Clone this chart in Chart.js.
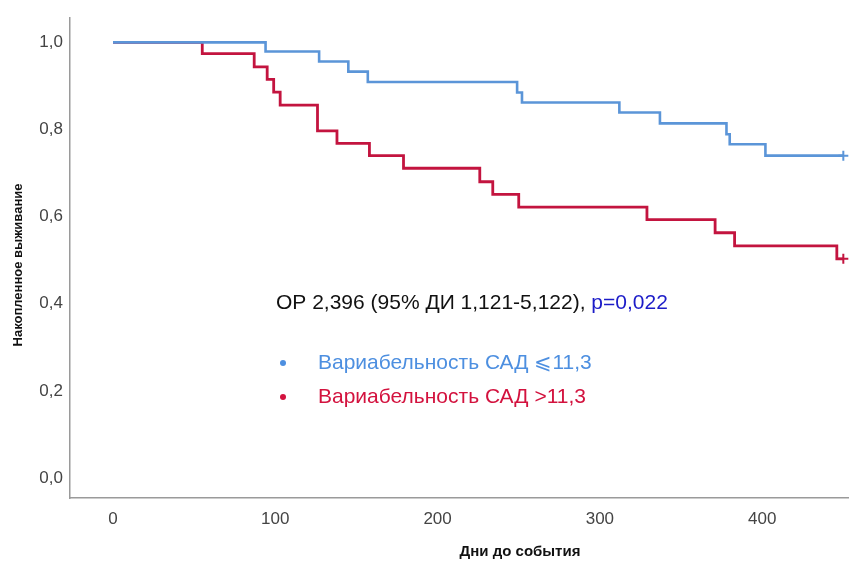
<!DOCTYPE html>
<html>
<head>
<meta charset="utf-8">
<script src="https://cdn.jsdelivr.net/npm/chart.js@4.4.1/dist/chart.umd.min.js"></script>
<style>
  body { margin:0; background:#fff; }
  canvas { display:block; }
</style>
</head>
<body>
<canvas id="km" width="849" height="561"></canvas>
<script>
// ---- data ----
let blueDays=[0, 94, 127, 145, 157, 249, 252, 312, 337, 378, 380, 402, 450]
let blueSurv=[1.0, 0.979, 0.956, 0.933, 0.909, 0.885, 0.862, 0.839, 0.814, 0.789, 0.766, 0.740, 0.740]

let redDays=[0, 55, 87, 95, 99, 103, 126, 138, 158, 179, 226, 234, 250, 329, 371, 383, 446, 450]
let redSurv=[1.0, 0.974, 0.944, 0.915, 0.886, 0.856, 0.797, 0.768, 0.740, 0.711, 0.680, 0.651, 0.622, 0.593, 0.563, 0.533, 0.503, 0.503]

let groupNames=["Вариабельность САД \u2A7D11,3", "Вариабельность САД >11,3"]
let xTicks=[0, 100, 200, 300, 400]
let yTicks=[0, 0.2, 0.4, 0.6, 0.8, 1.0]

let blueLine="#5b95d8"
let redLine="#c3143f"
let blueText="#4d8fe0"
let redText="#d3123e"

function toPoints(days, surv) {
    return days.map(function (d, i) { return {x: d, y: surv[i]} })
}
// censor "+" only on the last point
function lastOnly(arr, val) {
    return arr.map(function (d, i) { return i === arr.length - 1 ? val : 0 })
}

let fontTick='"Liberation Sans Narrow", "Liberation Sans", Arial, sans-serif'

// text that SPSS put on the plot + axis titles
const textPlugin = {
  id: 'kmText',
  afterDraw(chart) {
    const c = chart.ctx
    c.save()
    c.textBaseline = 'alphabetic'
    c.textAlign = 'left'
    c.font = '21px "Liberation Sans", Arial, sans-serif'
    let head = "ОР 2,396 (95% ДИ 1,121-5,122), "
    c.fillStyle = "#111"
    c.fillText(head, 276, 309)
    c.fillStyle = "#1c1cc8"
    c.fillText("p=0,022", 276 + c.measureText(head).width, 309)

    let cols = [blueText, redText]
    let base = [369, 403]
    chart.data.datasets.forEach(function (ds, i) {
        c.fillStyle = cols[i]
        c.beginPath()
        c.arc(283, base[i] - 6, 3, 0, Math.PI * 2)
        c.fill()
        c.fillText(ds.label, 318, base[i])
    })

    // axis titles
    c.fillStyle = "#111"
    c.textAlign = 'center'
    c.textBaseline = 'middle'
    c.font = 'bold 15px "Liberation Sans Narrow", "Liberation Sans", Arial, sans-serif'
    c.fillText("Дни до события", 520, 552)
    c.translate(18, 265)
    c.rotate(-Math.PI / 2)
    c.font = 'bold 13px "Liberation Sans Narrow", "Liberation Sans", Arial, sans-serif'
    c.fillText("Накопленное выживание", 0, 0)
    c.restore()
  }
}

const ctx = document.getElementById('km').getContext('2d')
const kmChart = new Chart(ctx, {
    type: 'line',
    data: {
      datasets: [{
        label: groupNames[0],
        data: toPoints(blueDays, blueSurv),
        borderColor: blueLine,
        backgroundColor: blueLine,
        borderWidth: 2.6,
        stepped: true,
        fill: false,
        pointStyle: 'cross',
        pointRadius: lastOnly(blueDays, 5),
        pointBorderWidth: 2
      }, {
        label: groupNames[1],
        data: toPoints(redDays, redSurv),
        borderColor: redLine,
        backgroundColor: redLine,
        borderWidth: 2.8,
        stepped: true,
        fill: false,
        pointStyle: 'cross',
        pointRadius: lastOnly(redDays, 5),
        pointBorderWidth: 2
      }]
    },
    options: {
      responsive: false,
      animation: false,
      devicePixelRatio: 1,
      layout: { autoPadding: false, padding: { top: 18, left: 0, right: 0, bottom: 0 } },
      plugins: {
        legend: { display: false },
        tooltip: { enabled: false }
      },
      scales: {
        x: {
          type: 'linear',
          min: -26.5,
          max: 453.5,
          afterBuildTicks: function (s) { s.ticks = xTicks.map(function (v) { return {value: v} }) },
          afterFit: function (s) { s.height = 63; s.paddingLeft = 0; s.paddingRight = 0 },
          grid: { drawOnChartArea: false, drawTicks: false },
          border: { display: true, color: '#9a9a9a', width: 1.5 },
          ticks: {
            padding: 11,
            color: '#444',
            font: { family: fontTick, size: 17 },
            maxRotation: 0
          }
        },
        y: {
          type: 'linear',
          min: -0.046,
          max: 1.056,
          afterBuildTicks: function (s) { s.ticks = yTicks.map(function (v) { return {value: v} }) },
          afterFit: function (s) { s.width = 70; s.paddingTop = 0; s.paddingBottom = 0 },
          grid: { drawOnChartArea: false, drawTicks: false },
          border: { display: true, color: '#9a9a9a', width: 1.5 },
          ticks: {
            padding: 7,
            color: '#444',
            font: { family: fontTick, size: 17 },
            callback: function (v) { return v.toFixed(1).replace('.', ',') }
          }
        }
      }
    },
    plugins: [textPlugin]
})
</script>
</body>
</html>
